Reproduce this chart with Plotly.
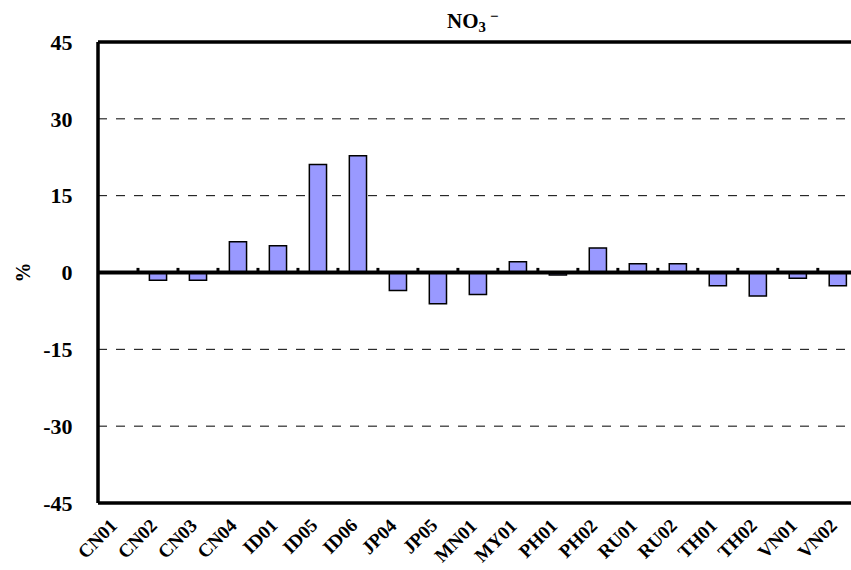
import plotly.graph_objects as go

sites = ["CN01", "CN02", "CN03", "CN04", "ID01", "ID05", "ID06", "JP04", "JP05", "MN01",
         "MY01", "PH01", "PH02", "RU01", "RU02", "TH01", "TH02", "VN01", "VN02"]
values = [0.0, -1.5, -1.5, 6.0, 5.2, 21.1, 22.8, -3.5, -6.1, -4.3,
          2.1, -0.5, 4.8, 1.7, 1.7, -2.6, -4.6, -1.1, -2.6]
y_ticks = [-45, -30, -15, 0, 15, 30, 45]

FONT = "Liberation Serif, Times New Roman, serif"

fig = go.Figure()
fig.add_trace(go.Bar(
    x=list(range(len(sites))), y=values,
    width=0.43,
    marker=dict(color="#9999FF", line=dict(color="black", width=1.5)),
))

# dashed gridlines
for v in y_ticks:
    if v in (0, 45, -45):
        continue
    fig.add_shape(type="line", xref="paper", yref="y", x0=0, x1=1, y0=v, y1=v,
                  line=dict(color="black", width=1, dash="dash"), layer="below")
# zero line
fig.add_shape(type="line", xref="paper", yref="y", x0=0, x1=1, y0=0, y1=0,
              line=dict(color="black", width=4), layer="above")
# small category ticks on zero line
for i in range(len(sites)):
    fig.add_shape(type="line", xref="x", yref="y", x0=i + 0.5, x1=i + 0.5, y0=0, y1=0.9,
                  line=dict(color="black", width=3), layer="above")
# frame: left, top, bottom
fig.add_shape(type="line", xref="paper", yref="paper", x0=0, x1=0, y0=0, y1=1,
              line=dict(color="black", width=3.5))
fig.add_shape(type="line", xref="paper", yref="paper", x0=0, x1=1, y0=1, y1=1,
              line=dict(color="black", width=3.5))
fig.add_shape(type="line", xref="paper", yref="paper", x0=0, x1=1, y0=0, y1=0,
              line=dict(color="black", width=3.5))

# rotated category labels
for i, s in enumerate(sites):
    fig.add_annotation(text=f"<b>{s}</b>", xref="x", yref="paper", x=i, y=0,
                       xanchor="right", yanchor="top", textangle=-45,
                       xshift=6, yshift=-9, showarrow=False,
                       font=dict(family=FONT, size=19, color="black"))

# title NO3-
fig.add_annotation(text="<b>NO<sub>3</sub></b>", xref="paper", yref="paper",
                   x=0.461, y=1.0, xanchor="left", yanchor="middle", yshift=20,
                   showarrow=False, font=dict(family=FONT, size=21, color="black"))
fig.add_annotation(text="<b>−</b>", xref="paper", yref="paper",
                   x=0.527, y=1.0, xanchor="center", yanchor="middle", yshift=26,
                   showarrow=False, font=dict(family=FONT, size=15, color="black"))
fig.add_annotation(text="<b>%</b>", xref="paper", yref="y", x=0, y=0, xanchor="center",
                   xshift=-76, textangle=-90, showarrow=False,
                   font=dict(family=FONT, size=20, color="black"))

fig.update_layout(
    width=851, height=570,
    margin=dict(l=98, r=0, t=42, b=67),
    plot_bgcolor="white", paper_bgcolor="white",
    showlegend=False,
    xaxis=dict(range=[-0.5, 18.33], showticklabels=False,
               showgrid=False, zeroline=False, showline=False, ticks=""),
    yaxis=dict(range=[-45, 45], tickmode="array", tickvals=y_ticks,
               ticktext=[f"<b>{v}</b>" for v in y_ticks],
               showgrid=False, zeroline=False, showline=False,
               ticks="outside", ticklen=20, tickcolor="rgba(0,0,0,0)",
               tickfont=dict(family=FONT, size=22, color="black")),
)

post = """
document.body.style.margin='0';
setTimeout(function(){
  document.body.style.margin='0';
  document.querySelectorAll('.annotation-text-g').forEach(function(el){
    var t=el.getAttribute('transform');
    if(t){el.setAttribute('transform',t);}
  });
  var d=document.createElement('div');
  d.style.cssText='position:absolute;left:0;top:0;width:0;height:0;overflow:hidden';
  document.body.appendChild(d);
},200);
"""

fig.write_html("out.html", post_script=post, config={"displayModeBar": False})
